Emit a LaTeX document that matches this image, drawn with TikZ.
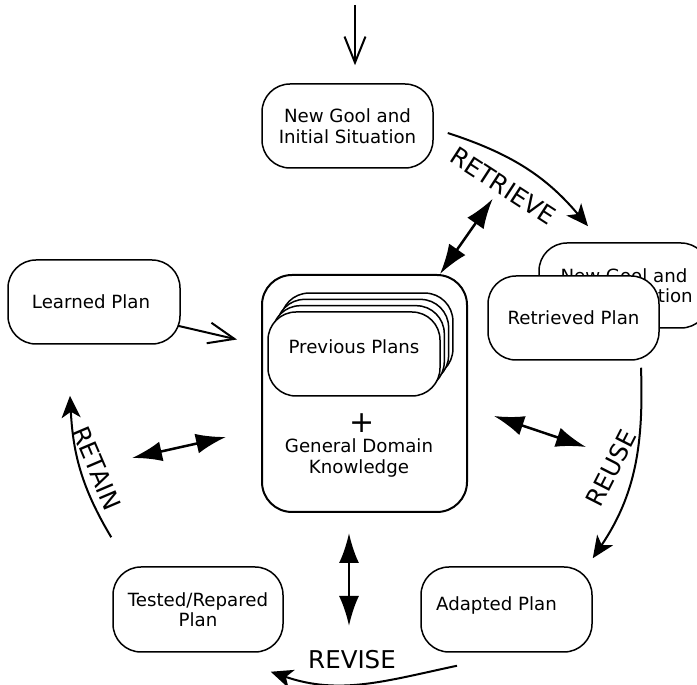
\documentclass[tikz,border=0pt]{standalone}
\usepackage{fontspec}
\setmainfont{DejaVu Sans}
\usetikzlibrary{arrows.meta,calc}

\tikzset{
  plan/.style={draw, line width=1.5pt, fill=white, rounded corners=28pt, minimum width=171pt, minimum height=84pt,
    inner sep=0pt, align=center, font=\fontsize{18.2}{20.5}\selectfont},
  phase/.style={inner sep=0pt, font=\fontsize{24.5}{26}\selectfont},
  cyc/.style={line width=2pt, -{Stealth[length=22pt,width=19pt,inset=6pt]}},
  both/.style={line width=2.5pt, {Latex[length=30pt,width=20pt]}-{Latex[length=30pt,width=20pt]}},
  open/.style={line width=2pt, -{Straight Barb[length=26pt,width=21pt]}}
}

\begin{document}
\begin{tikzpicture}[x=1pt,y=1pt] % one unit per pixel, y counted from the bottom
\useasboundingbox (0,0) rectangle (697,685);

\node[plan] (newgoal) at (347.5,559) {New Gool and\\Initial Situation};
\node[plan, minimum width=170pt, minimum height=85pt] (oldgoal) at (624,399.5) {New Gool and\\Initial Situation};
\node[plan] (retrieved) at (573.5,367) {Retrieved Plan};

\node[plan, line width=2pt, minimum width=205pt, minimum height=237pt, rounded corners=30pt] (kb) at (364.5,291.5) {};
\foreach \k in {3,2,1}
  \node[plan, minimum width=172pt] (plan\k) at ($(354,331)+(4.3*\k,6.3*\k)$) {};
\node[plan, minimum width=172pt, text depth=14pt] (plans) at (354,331) {Previous Plans};
\node[inner sep=0pt, font=\fontsize{30}{30}\selectfont] (plus) at (362,262) {+};
\node[inner sep=0pt, align=center, font=\fontsize{18.2}{20.5}\selectfont] (gdk) at (359,227) {General Domain\\Knowledge};

\node[plan, minimum width=172pt] (learned) at (94,383) {Learned Plan\kern6pt};
\node[plan, minimum width=170pt, minimum height=85pt] (tested) at (198,75.5) {Tested/Repared\\Plan};
\node[plan, minimum height=85pt, text depth=12pt] (adapted) at (506.5,75.5) {Adapted Plan\kern20pt};

% incoming problem
\coordinate (entry) at (355,680);
\draw[open] (entry) -- ($(newgoal.north)+(7.5,18)$);

% the four phases
\draw[cyc] ($(newgoal.east)+(14,-7)$) to[out=-18, in=130] ($(oldgoal.north)+(-36,16)$);
\node[phase, rotate=-33] (retrieve) at (503,499) {RETRIEVE};
\draw[cyc] ($(retrieved.south)+(67.5,-7)$) to[out=-88, in=56] ($(adapted.north east)+(0,8)$);
\node[phase, rotate=63] (reuse) at (611,217) {REUSE};
\draw[cyc] ($(adapted.south)+(-49.5,-13)$) to[out=192, in=-19] ($(tested.south east)+(-13,-19)$);
\node[phase] (revise) at (352,25) {REVISE};
\draw[cyc] ($(tested.north west)+(-1,29)$) to[out=121, in=-87] ($(learned.south)+(-24,-51)$);
\node[phase, rotate=-67] (retain) at (97,217) {RETAIN};

% links with the case base
\draw[both] ($(kb.north east)+(-28,0)$) -- ($(newgoal.south east)+(59,-30)$);
\draw[both] ($(kb.east)+(26,-22.5)$) -- ($(kb.east)+(118,-53.5)$);
\draw[both] ($(kb.south)+(-15.5,-20)$) -- ($(kb.south)+(-15.5,-113)$);
\draw[both] ($(kb.west)+(-129,-64.5)$) -- ($(kb.west)+(-35,-43.5)$);
\draw[open] ($(learned.south east)+(-3,19)$) -- ($(kb.west)+(-24,54)$);
\end{tikzpicture}
\end{document}
